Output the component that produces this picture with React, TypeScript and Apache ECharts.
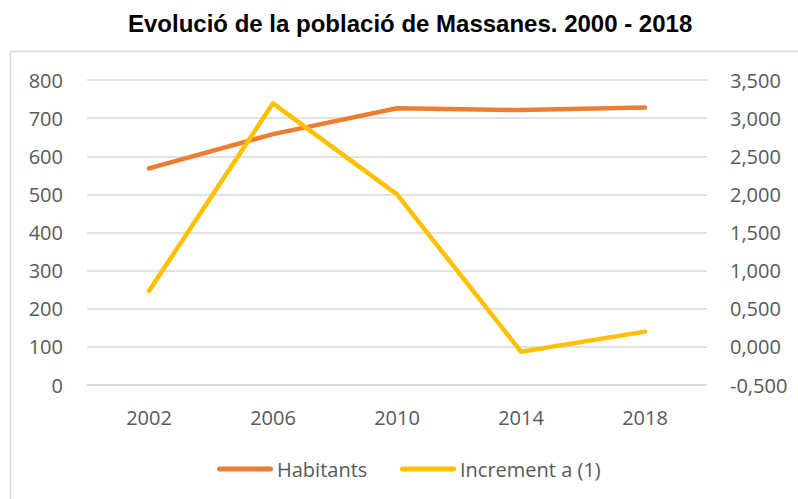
import React, { useEffect, useRef } from "react";
import * as echarts from "echarts";

const titleText = "Evolució de la població de Massanes. 2000 - 2018";
const categories = ["2002", "2006", "2010", "2014", "2018"];
const habitants = [568, 658, 726, 721, 728];
const increment = [0.733, 3.194, 2.0, -0.063, 0.2];
const seriesNames = ["Habitants", "Increment a (1)"];

const FONT = "'Open Sans', 'Noto Sans', sans-serif";
const LABEL_COLOR = "#595959";
const GRID_COLOR = "#d9d9d9";
const pill = "path://M2.5,0 L53.5,0 A2.5,2.5 0 0 1 53.5,5 L2.5,5 A2.5,2.5 0 0 1 2.5,0 Z";

export default function App() {
  const ref = useRef<HTMLDivElement>(null);
  useEffect(() => {
    if (!ref.current) return;
    const chart = echarts.init(ref.current, null, { renderer: "svg" });
    const legendCommon = {
      orient: "horizontal",
      top: 459,
      itemWidth: 56,
      itemHeight: 5,
      itemGap: 5,
      icon: pill,
      textStyle: { fontFamily: FONT, fontSize: 20, color: LABEL_COLOR, padding: [0, 0, 0, -1] },
      padding: 0,
    };
    chart.setOption({
      animation: false,
      backgroundColor: "#ffffff",
      title: {
        text: titleText,
        left: 128,
        top: 11,
        padding: 0,
        textStyle: {
          fontFamily: "'Liberation Sans', Arial, sans-serif",
          fontWeight: "bold",
          fontSize: 24,
          color: "#000000",
        },
      },
      graphic: [
        {
          type: "rect",
          shape: { x: 10.5, y: 51.5, width: 820, height: 480 },
          style: { fill: "none", stroke: GRID_COLOR, lineWidth: 1.5 },
          silent: true,
          z: -10,
        },
      ],
      legend: [
        { ...legendCommon, left: 217, data: [seriesNames[0]] },
        { ...legendCommon, left: 400, data: [seriesNames[1]] },
      ],
      grid: { left: 87, right: 91, top: 80, bottom: 114, containLabel: false },
      xAxis: {
        type: "category",
        data: categories,
        boundaryGap: true,
        axisLine: { show: true, lineStyle: { color: GRID_COLOR, width: 1.5 } },
        axisTick: { show: false },
        axisLabel: { fontFamily: FONT, fontSize: 20, color: LABEL_COLOR, margin: 22 },
      },
      yAxis: [
        {
          type: "value",
          min: 0,
          max: 800,
          interval: 100,
          axisLine: { show: false },
          axisTick: { show: false },
          splitLine: { show: true, lineStyle: { color: GRID_COLOR, width: 1.5 } },
          axisLabel: { fontFamily: FONT, fontSize: 20, color: LABEL_COLOR, margin: 24 },
        },
        {
          type: "value",
          min: -0.5,
          max: 3.5,
          interval: 0.5,
          position: "right",
          axisLine: { show: false },
          axisTick: { show: false },
          splitLine: { show: false },
          axisLabel: {
            fontFamily: FONT,
            fontSize: 20,
            color: LABEL_COLOR,
            margin: 23,
            formatter: (v: number) => v.toFixed(3).replace(".", ","),
          },
        },
      ],
      series: [
        {
          name: seriesNames[0],
          type: "line",
          yAxisIndex: 0,
          data: habitants,
          symbol: "none",
          itemStyle: { color: "#ED7D31" },
          lineStyle: { color: "#ED7D31", width: 4.5, cap: "round", join: "round" },
          z: 2,
        },
        {
          name: seriesNames[1],
          type: "line",
          yAxisIndex: 1,
          data: increment,
          symbol: "none",
          itemStyle: { color: "#FFC000" },
          lineStyle: { color: "#FFC000", width: 4.5, cap: "round", join: "round" },
          z: 3,
        },
      ],
    });
    return () => chart.dispose();
  }, []);
  return (
    <div
      ref={ref}
      style={{ position: "fixed", left: 0, top: 0, width: 798, height: 499, background: "#fff" }}
    />
  );
}
